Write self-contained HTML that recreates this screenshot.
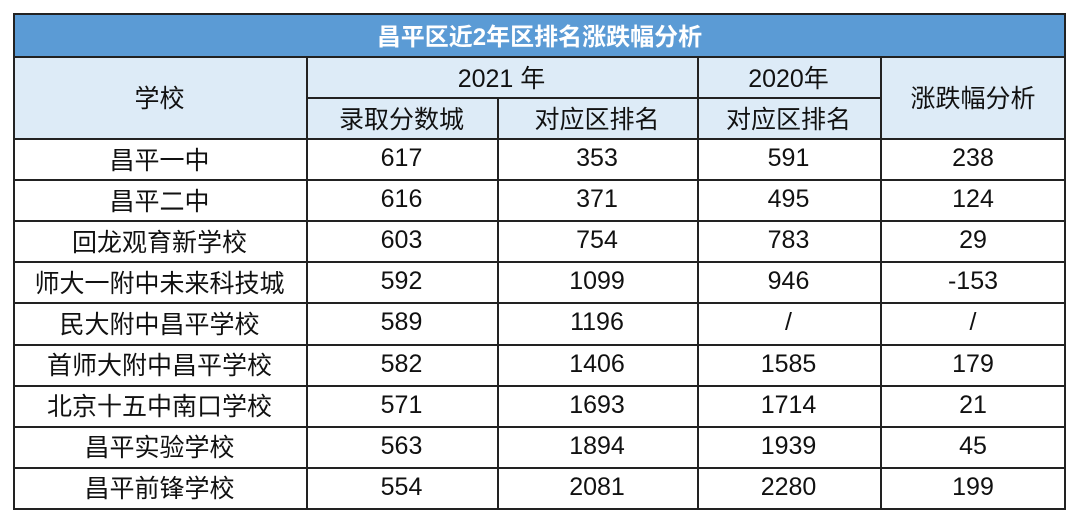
<!DOCTYPE html>
<html><head><meta charset="utf-8"><style>
body{margin:0;width:1080px;height:521px;background:#fff;position:relative;overflow:hidden;font-family:"Liberation Sans","Noto Sans CJK SC",sans-serif;}
.c{position:absolute;box-sizing:border-box;display:flex;align-items:center;justify-content:center;color:#111;font-size:25px;}
.ln{position:absolute;background:#222;}
</style></head><body>
<div id="t"></div>
<script>
const schools=["昌平一中","昌平二中","回龙观育新学校","师大一附中未来科技城","民大附中昌平学校","首师大附中昌平学校","北京十五中南口学校","昌平实验学校","昌平前锋学校"];
const scores=["617","616","603","592","589","582","571","563","554"];
const rank2021=["353","371","754","1099","1196","1406","1693","1894","2081"];
const rank2020=["591","495","783","946","/","1585","1714","1939","2280"];
const changes=["238","124","29","-153","/","179","21","45","199"];
const X=[13,306,497,697,880,1066];
const T=13,H1=56,H2=97,H3=138,B=508,rh=(B-H3)/9;
const root=document.getElementById('t');
function cell(x,y,w,h,txt,name,st){const d=document.createElement('div');d.className='c';


d.style.left=x+'px';d.style.top=y+'px';d.style.width=w+'px';d.style.height=h+'px';d.textContent=txt;Object.assign(d.style,st||{});root.appendChild(d);}
function line(x,y,w,h){const d=document.createElement('div');d.className='ln';


d.style.left=x+'px';d.style.top=y+'px';d.style.width=w+'px';d.style.height=h+'px';root.appendChild(d);}
cell(X[0],T,X[5]-X[0],H1-T,"昌平区近2年区排名涨跌幅分析","table-title",{background:"#5b9bd5",color:"#fff",fontWeight:"bold",fontSize:"24px"});
cell(X[0],H1,X[5]-X[0],H3-H1,"","header-bg",{background:"#ddebf7"});
cell(X[0],H1,X[1]-X[0],H3-H1,"学校","header-school");
cell(X[1],H1,X[3]-X[1],H2-H1,"2021 年","header-2021");
cell(X[3],H1,X[4]-X[3],H2-H1,"2020年","header-2020");
cell(X[4],H1,X[5]-X[4],H3-H1,"涨跌幅分析","header-change");
cell(X[1],H2,X[2]-X[1],H3-H2,"录取分数城","header-score");
cell(X[2],H2,X[3]-X[2],H3-H2,"对应区排名","header-rank-2021");
cell(X[3],H2,X[4]-X[3],H3-H2,"对应区排名","header-rank-2020");
const cols=[schools,scores,rank2021,rank2020,changes];
const names=["school","score","rank-2021","rank-2020","change"];
for(let r=0;r<schools.length;r++){for(let c=0;c<5;c++){cell(X[c],H3+r*rh,X[c+1]-X[c],rh,cols[c][r],names[c]+'-cell');}}
// lines
line(X[0],T,X[5]-X[0],2);line(X[0],H1,X[5]-X[0],2);
line(X[1],H2,X[4]-X[1],2);
for(let r=0;r<=9;r++)line(X[0],Math.round(H3+r*rh),X[5]-X[0],2);
line(X[0],T,2,B-T+2);line(X[5]-2,T,2,B-T+2);
line(X[1],H1,2,B-H1);line(X[3],H1,2,B-H1);line(X[4],H1,2,B-H1);
line(X[2],H2,2,B-H2);
</script>
</body></html>
